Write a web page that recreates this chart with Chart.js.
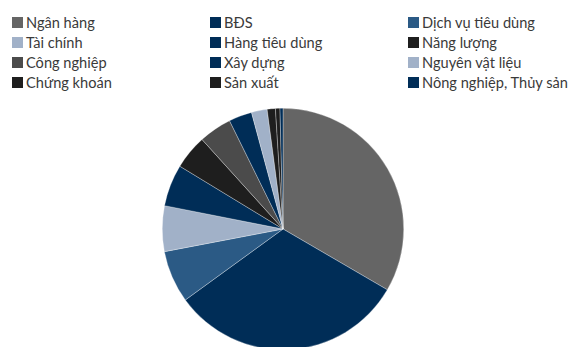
<!DOCTYPE html>
<html>
<head>
<meta charset="utf-8">
<script src="https://cdn.jsdelivr.net/npm/chart.js@4/dist/chart.umd.min.js"></script>
<style>
  html, body { margin: 0; padding: 0; background: #fff; overflow: hidden; }
  body { width: 571px; height: 347px; position: relative; font-family: Lato, sans-serif; }
  #legend {
    position: absolute; left: 12px; top: 12px;
    display: grid; grid-template-columns: 198px 198px 160px;
    row-gap: 0; font-size: 14.6px; color: #3a3a3a;
  }
  .item { display: flex; align-items: center; height: 20px; white-space: nowrap; }
  .box { width: 11px; height: 11px; margin-right: 3px; flex: none; }
  #wrap { position: absolute; left: 0; top: 108px; width: 566px; height: 242px; }
</style>
</head>
<body>
<div id="legend"></div>
<div id="wrap"><canvas id="pie"></canvas></div>
<script>
// sector shares, %
const sectors = [
  'Ngân hàng', 'BĐS', 'Dịch vụ tiêu dùng',
  'Tài chính', 'Hàng tiêu dùng', 'Năng lượng',
  'Công nghiệp', 'Xây dựng', 'Nguyên vật liệu',
  'Chứng khoán', 'Sản xuất', 'Nông nghiệp, Thủy sản'
];
const shares = [33.4, 31.6, 7.0, 6.1, 5.6, 4.6, 4.4, 3.1, 2.1, 1.1, 0.6, 0.4];
const sliceColors = [
  '#656565', '#002d57', '#2b5a85',
  '#a1b1c8', '#002d57', '#1e1e1e',
  '#4b4b4b', '#002d57', '#a1b1c8',
  '#1e1e1e', '#1e1e1e', '#002d57'
];

const legend = document.getElementById('legend');
sectors.forEach((name, i) => {
  const el = document.createElement('div');
  el.className = 'item';
  el.innerHTML = '<span class="box" style="background:' + sliceColors[i] + '"></span>' + name;
  legend.appendChild(el);
});

new Chart(document.getElementById('pie').getContext('2d'), {
  type: 'pie',
  data: {
    labels: sectors,
    datasets: [{
      data: shares,
      backgroundColor: sliceColors,
      borderColor: 'rgba(255,255,255,0.6)',
      borderWidth: 0.5
    }]
  },
  options: {
    responsive: true,
    maintainAspectRatio: false,
    animation: false,
    layout: { padding: 0 },
    plugins: { legend: { display: false }, tooltip: { enabled: false } }
  }
});
</script>
</body>
</html>
